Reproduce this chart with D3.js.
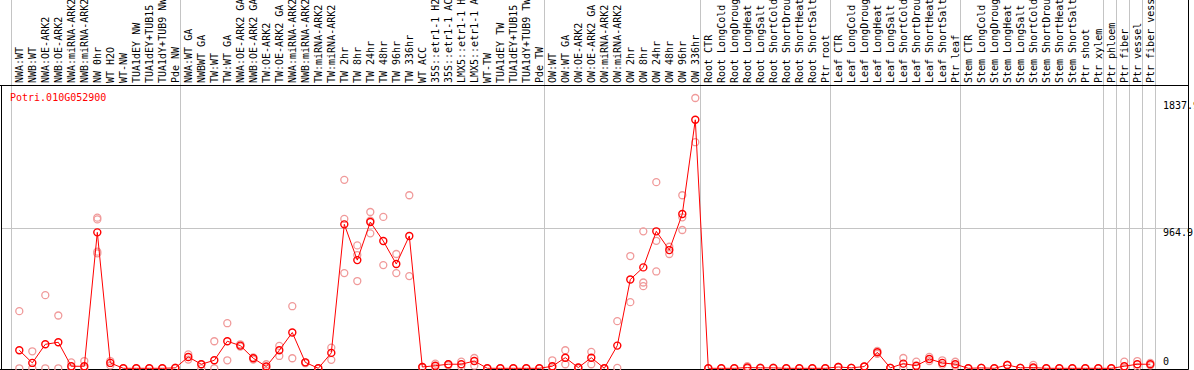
<!DOCTYPE html>
<html>
<head>
<meta charset="utf-8">
<script src="https://cdn.jsdelivr.net/npm/d3@7"></script>
<style>
  html, body { margin: 0; padding: 0; background: #fff; overflow: hidden; }
  text { font-family: "DejaVu Sans Mono", monospace; font-size: 10px; }
</style>
</head>
<body>
<script>
const gene = "Potri.010G052900";

const samples = [
  "NWA:WT", "NWB:WT", "NWA:OE-ARK2", "NWB:OE-ARK2", "NWA:miRNA-ARK2", "NWB:miRNA-ARK2",
  "NW 0hr", "WT H2O", "WT-NW", "TUA1dEY NW", "TUA1dEY+TUB15 NW", "TUA1dY+TUB9 NW", "Pde NW",
  "NWA:WT GA", "NWBWT GA", "TW:WT", "TW:WT GA", "NWA:OE-ARK2 GA", "NWB:OE-ARK2 GA",
  "TW:OE-ARK2", "TW:OE-ARK2 GA", "NWA:miRNA-ARK2 GA", "NWB:miRNA-ARK2 GA", "TW:miRNA-ARK2",
  "TW:miRNA-ARK2 GA", "TW 2hr", "TW 8hr", "TW 24hr", "TW 48hr", "TW 96hr", "TW 336hr",
  "WT ACC", "35S::etr1-1 H2O", "35S::etr1-1 ACC", "LMX5::etr1-1 H2O", "LMX5::etr1-1 ACC",
  "WT-TW", "TUA1dEY TW", "TUA1dEY+TUB15 TW", "TUA1dY+TUB9 TW", "Pde TW",
  "OW:WT", "OW:WT GA", "OW:OE-ARK2", "OW:OE-ARK2 GA", "OW:miRNA-ARK2", "OW:miRNA-ARK2 GA",
  "OW 2hr", "OW 8hr", "OW 24hr", "OW 48hr", "OW 96hr", "OW 336hr",
  "Root CTR", "Root LongCold", "Root LongDrought", "Root LongHeat", "Root LongSalt",
  "Root ShortCold", "Root ShortDrought", "Root ShortHeat", "Root ShortSalt", "Ptr root",
  "Leaf CTR", "Leaf LongCold", "Leaf LongDrought", "Leaf LongHeat", "Leaf LongSalt",
  "Leaf ShortCold", "Leaf ShortDrought", "Leaf ShortHeat", "Leaf ShortSalt", "Ptr leaf",
  "Stem CTR", "Stem LongCold", "Stem LongDrought", "Stem LongHeat", "Stem LongSalt",
  "Stem ShortCold", "Stem ShortDrought", "Stem ShortHeat", "Stem ShortSalt", "Ptr shoot",
  "Ptr xylem", "Ptr phloem", "Ptr fiber", "Ptr vessel", "Ptr fiber vessel"
];

const means = [
  124, 37, 165, 179, 14, 14, 935, 37, 0, 0, 0, 0, 3,
  78, 28, 55, 186, 156, 69, 12, 124, 246, 41, 0, 106, 990, 744, 1006, 875, 717, 910,
  9, 18, 28, 28, 50, 0, 0, 0, 0, 0,
  14, 73, 5, 73, 0, 156, 611, 694, 942, 813, 1061, 1709,
  0, 0, 0, 5, 3, 3, 0, 0, 0, 0,
  9, 3, 12, 110, 3, 32, 18, 64, 37, 28,
  0, 3, 0, 23, 3, 5, 0, 0, 0, 0, 0,
  0, 14, 28, 28
];

const replicates = [
  [393, 0], [117, 0], [503, 0], [363, 0], [41, 0], [50, 0], [1036, 1024, 802, 790], [50, 20],
  [0], [0], [0], [0], [5, 0],
  [96, 60], [28, 0], [186, 0], [310, 55], [165, 150], [75, 60], [28, 0], [154, 85], [427, 69],
  [41, 35], [0], [142, 58], [1296, 1027, 655], [845, 779, 600], [1075, 1015, 928], [1041, 710],
  [786, 655], [1190, 634],
  [9, 5], [32, 5], [28, 20], [46, 10], [71, 18], [0], [0], [0], [0], [0],
  [55, 0], [124, 28], [5, 0], [113, 28], [0], [324, 3], [772, 455], [942, 590, 565],
  [1280, 877, 666], [836, 786], [1190, 1038, 951], [1859, 1555],
  [0], [0], [0], [15, 0], [5, 0], [5, 0], [0], [0], [0], [0],
  [9, 9], [3, 3], [12, 12], [120, 100], [3, 3], [71, 5], [46, 5], [78, 50], [55, 25], [45, 15],
  [0], [3, 3], [0], [23, 23], [3, 3], [23, 0], [0], [0], [0], [0], [0],
  [0], [46, 0], [50, 10], [37, 20]
];

// first sample of each group, a grey rule is drawn before it
const groupStarts = [
  "NWA:WT", "NWA:WT GA", "OW:WT", "Root CTR", "Leaf CTR", "Stem CTR",
  "Ptr phloem", "Ptr fiber", "Ptr vessel", "Ptr fiber vessel"
];

const yMax = 1929.8;
const yTicks = [0, 964.9, 1837.9];
const yTickLabels = ["0", "964.9", "1837.9"];

const width = 1194, height = 370;
const headerBottom = 85.5;
const plotBottom = 369.5;
const rightEdge = 1188.5;

const x = d3.scalePoint().domain(samples).range([19.3, 1150.3]);
const y = d3.scaleLinear().domain([0, yMax]).range([368.3, 87.7]);

const svg = d3.select("body").append("svg")
  .attr("width", width)
  .attr("height", height);

// grey rules
const ruleX = groupStarts.map((s) => Math.round(x(s) - 8.3) + 0.5);
ruleX.push(Math.round(x(samples[samples.length - 1]) + 4.7) + 0.5);

svg.append("g")
  .selectAll("line")
  .data(ruleX)
  .join("line")
  .attr("x1", (d) => d).attr("x2", (d) => d)
  .attr("y1", 0).attr("y2", plotBottom)
  .attr("stroke", "#c4c4c4")
  .attr("stroke-width", 1);

// horizontal rule at mid tick
svg.append("line")
  .attr("x1", 1).attr("x2", rightEdge)
  .attr("y1", Math.round(y(yTicks[1])) + 0.5)
  .attr("y2", Math.round(y(yTicks[1])) + 0.5)
  .attr("stroke", "#c4c4c4");

// frame
svg.append("line")
  .attr("x1", 0).attr("x2", rightEdge)
  .attr("y1", headerBottom).attr("y2", headerBottom)
  .attr("stroke", "#000");
svg.append("line")
  .attr("x1", 0).attr("x2", rightEdge)
  .attr("y1", plotBottom).attr("y2", plotBottom)
  .attr("stroke", "#000");
svg.append("line")
  .attr("x1", 1.5).attr("x2", 1.5)
  .attr("y1", headerBottom).attr("y2", plotBottom)
  .attr("stroke", "#000");
svg.append("line")
  .attr("x1", rightEdge).attr("x2", rightEdge)
  .attr("y1", 0).attr("y2", plotBottom)
  .attr("stroke", "#000");

// sample labels
svg.append("g")
  .selectAll("text")
  .data(samples)
  .join("text")
  .attr("transform", (d) => `translate(${x(d)},83) rotate(-90)`)
  .attr("dy", "0.35em")
  .attr("fill", "#000")
  .text((d) => d);

// gene name
svg.append("text")
  .attr("x", 10)
  .attr("y", 97)
  .attr("dy", "0.35em")
  .attr("fill", "#ff0000")
  .text(gene);

// y labels
svg.append("g")
  .selectAll("text")
  .data(yTicks)
  .join("text")
  .attr("x", 1163)
  .attr("y", (d) => (d === 0 ? y(d) - 6.6 : y(d) + 4.7))
  .attr("dy", "0.35em")
  .attr("fill", "#000")
  .text((d, i) => yTickLabels[i]);

// replicates
const reps = samples.flatMap((s, i) => replicates[i].map((v) => ({ s, v })));
svg.append("g")
  .selectAll("circle")
  .data(reps)
  .join("circle")
  .attr("cx", (d) => x(d.s))
  .attr("cy", (d) => y(d.v))
  .attr("r", 3.5)
  .attr("fill", "none")
  .attr("stroke", "#f09a9a")
  .attr("stroke-width", 1.3);

// mean line
const line = d3.line()
  .x((d, i) => x(samples[i]))
  .y((d) => y(d));

svg.append("path")
  .datum(means)
  .attr("d", line)
  .attr("fill", "none")
  .attr("stroke", "#ff0000")
  .attr("stroke-width", 1);

svg.append("g")
  .selectAll("circle")
  .data(means)
  .join("circle")
  .attr("cx", (d, i) => x(samples[i]))
  .attr("cy", (d) => y(d))
  .attr("r", 3.5)
  .attr("fill", "none")
  .attr("stroke", "#ff0000")
  .attr("stroke-width", 1.4);
</script>
</body>
</html>
